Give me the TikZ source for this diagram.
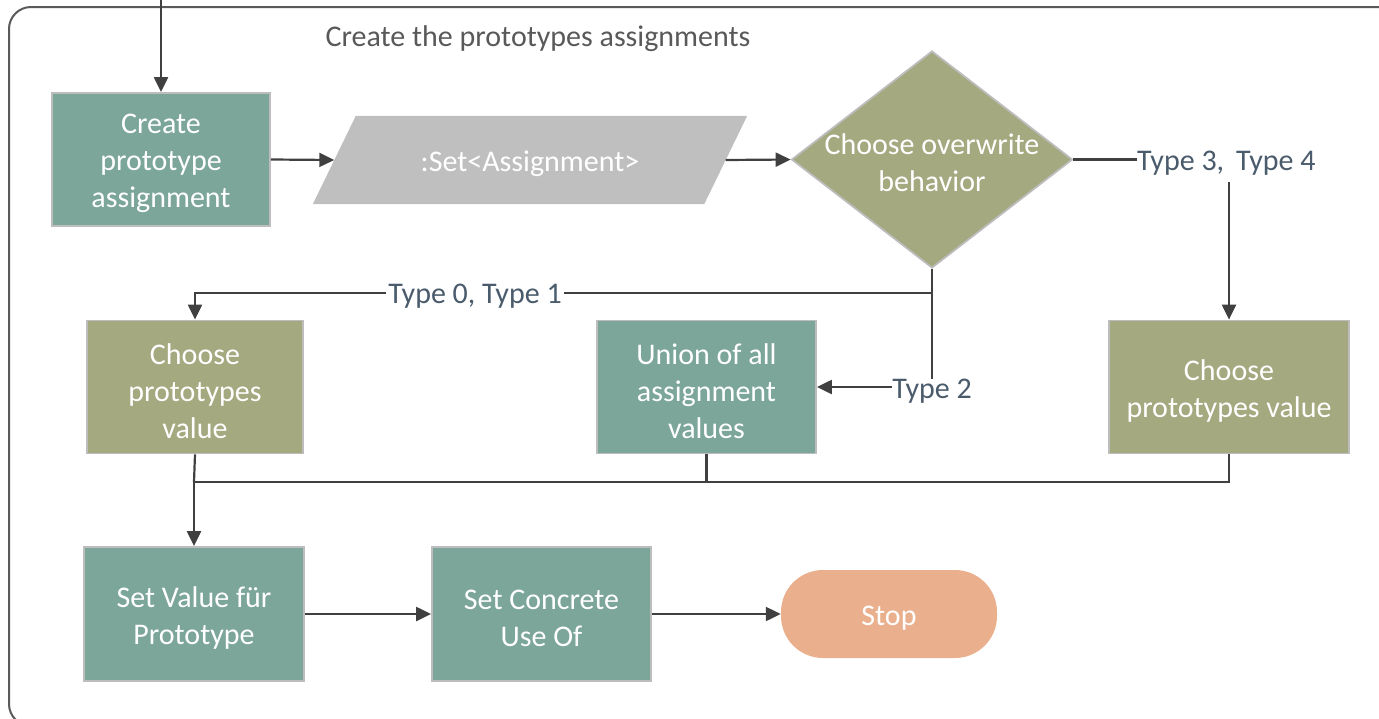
\documentclass[tikz,border=0pt]{standalone}
\usepackage{fontspec}
\setmainfont{Carlito}
\usetikzlibrary{shapes.geometric,arrows.meta,calc}
\definecolor{cTeal}{HTML}{7BA699}
\definecolor{cOlive}{HTML}{A4A97F}
\definecolor{cGrayFill}{HTML}{BFBFBF}
\definecolor{cStop}{HTML}{EAB08E}
\definecolor{cBorder}{HTML}{BDBDBD}
\definecolor{cLine}{HTML}{404040}
\definecolor{cFrame}{HTML}{5A5A5A}
\definecolor{cLabel}{HTML}{4A5B6C}
\definecolor{cTitle}{HTML}{595959}
\begin{document}
\begin{tikzpicture}[x=1pt,y=-1pt,
  every node/.style={font=\fontsize{30}{37}\selectfont, inner sep=0pt},
  boxtext/.style={text=white, align=center, yshift=-4pt},
  procbox/.style={draw=cBorder, line width=1.8pt, minimum width=218pt, minimum height=133pt},
  tealbox/.style={procbox, fill=cTeal},
  olivebox/.style={procbox, fill=cOlive},
  lbl/.style={text=cLabel},
  conn/.style={draw=cLine, line width=2.2pt},
  arr/.style={conn, -{Triangle[length=15pt,width=14pt]}}
]
\clip (0,0) rectangle (1379,718);
% frame
\draw[cFrame, line width=2pt, rounded corners=22pt] (9,7) rectangle (1420,726);
\node[text=cTitle] (title) at (538,39) {Create the prototypes assignments};

% nodes
\node[tealbox, label={[boxtext]center:{Create\\prototype\\assignment}}] (b1) at (161,159.5) {};
\node[minimum width=391pt, minimum height=88pt] (par) at (530,160) {};
\fill[cGrayFill] ($(par.north west)+(21.5,0)$) -- ($(par.north east)+(21.5,0)$) -- ($(par.south east)+(-21.5,0)$) -- ($(par.south west)+(-21.5,0)$) -- cycle;
\node[boxtext] (partext) at (par.center) {:Set<Assignment>};
\node[diamond, draw=cBorder, line width=1.8pt, fill=cOlive, minimum width=281pt, minimum height=217pt,
  label={[boxtext, yshift=1pt]center:{Choose overwrite\\behavior}}] (dia) at (932,159.5) {};

\node[olivebox, minimum width=216pt, label={[boxtext]center:{Choose\\prototypes\\value}}] (cpl) at (195,387) {};
\node[tealbox, minimum width=219pt, label={[boxtext]center:{Union of all\\assignment\\values}}] (uni) at (706.5,387) {};
\node[olivebox, minimum width=240pt, label={[boxtext]center:{Choose\\prototypes value}}] (cpr) at (1229,387) {};

\node[tealbox, minimum width=220pt, minimum height=134pt, label={[boxtext]center:{Set Value für\\Prototype}}] (sv) at (194,614) {};
\node[tealbox, minimum width=219pt, minimum height=134pt, label={[boxtext]center:{Set Concrete\\Use Of}}] (sc) at (541.5,614) {};
\node[fill=cStop, minimum width=216pt, minimum height=88pt, rounded corners=42pt, label={[boxtext]center:Stop}] (stop) at (889,614) {};

% labels
\node[lbl, anchor=west] (t34) at (1137,163) {Type 3,\, Type 4};
\node[lbl] (t2) at (932,391) {Type 2};
\coordinate (top) at (161,0);
\coordinate (j1) at (932,293);
\coordinate (m) at (194,482);

% connectors
\draw[arr] (top) -- (b1.north);
\draw[arr] (b1.east) -- (par.west);
\draw[arr] (par.east) -- (dia.west);
\draw[conn] (dia.east) -- (dia.east -| t34.west);
\draw[arr] (1229,182) -- (cpr.north);
\draw[conn] (dia.south) -- (t2.north);
\draw[arr] (t2.west |- uni.east) -- (uni.east);
\draw[arr] (j1) -- (cpl.north |- j1) node[pos=0.62, fill=white, lbl, inner xsep=2pt, yshift=-3pt] (t01) {Type 0, Type 1} -- (cpl.north);
\draw[conn] (cpl.south) -- (m);
\draw[conn] (uni.south) -- (uni.south |- m) -- (m);
\draw[conn] (cpr.south) -- (cpr.south |- m) -- (uni.south |- m);
\draw[arr] (m) -- (sv.north);
\draw[arr] (sv.east) -- (sc.west);
\draw[arr] (sc.east) -- (stop.west);
\end{tikzpicture}
\end{document}
